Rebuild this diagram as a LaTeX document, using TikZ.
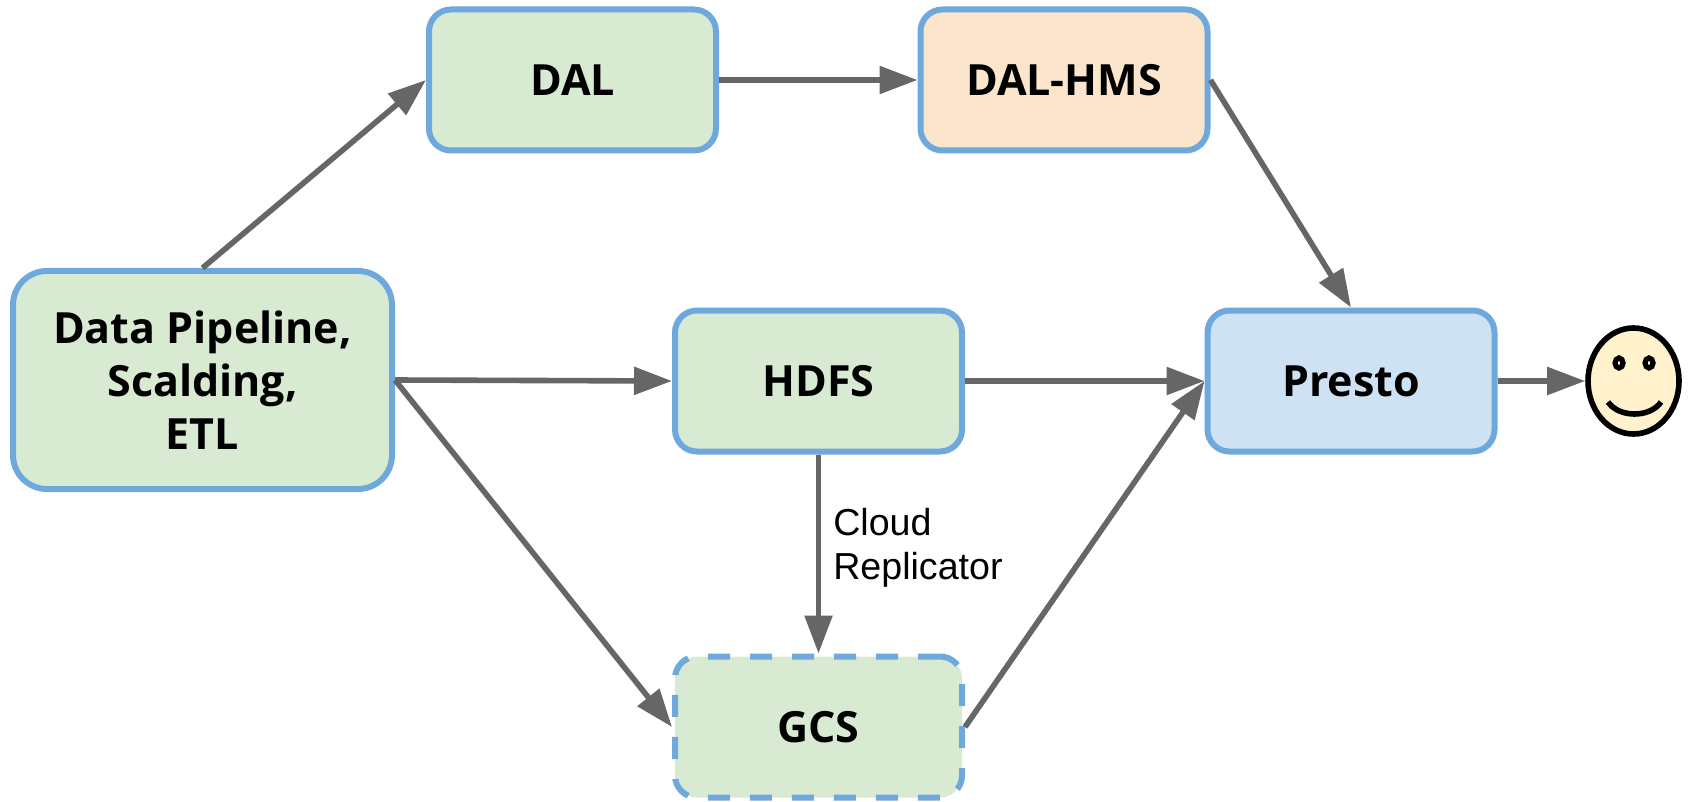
\documentclass[tikz,border=0pt]{standalone}
\usepackage{fontspec}
\setmainfont{Open Sans}
\newfontfamily\labelfont{Liberation Sans}
\usetikzlibrary{arrows.meta,shapes.geometric}
\definecolor{bordercol}{HTML}{6FA8DC}
\definecolor{greenfill}{HTML}{D9EAD3}
\definecolor{orangefill}{HTML}{FCE5CD}
\definecolor{bluefill}{HTML}{CFE2F3}
\definecolor{yellowfill}{HTML}{FFF2CC}
\definecolor{arrowcol}{HTML}{666666}
\tikzset{
  box/.style={rectangle, rounded corners=11pt, draw=bordercol, line width=3pt,
    minimum width=143.5pt, minimum height=70.5pt, inner sep=0pt,
    font=\fontsize{21.5}{26.5}\selectfont\bfseries, text height=15.4pt, text depth=0pt},
  bigbox/.style={rectangle, rounded corners=17pt, draw=bordercol, line width=3pt,
    minimum width=189.5pt, minimum height=109pt, inner sep=0pt, align=center,
    font=\fontsize{21.5}{26.5}\selectfont\bfseries},
  dashedbox/.style={box, dash pattern=on 11pt off 10pt},
  conn/.style={draw=arrowcol, line width=2.8pt, -{Triangle[length=19pt,width=13.5pt]}},
  lbl/.style={font=\labelfont\fontsize{18.8}{22}\selectfont, align=left, inner sep=0pt},
  smileyface/.style={ellipse, draw=black, fill=yellowfill, line width=2.8pt,
    minimum width=45.5pt, minimum height=53pt, inner sep=0pt}
}
\begin{document}
\begin{tikzpicture}[x=0.5pt,y=-0.5pt]
\useasboundingbox (0,0) rectangle (1691,802);
\node[bigbox, fill=greenfill] (dp) at (202.5,380) {Data Pipeline,\\Scalding,\\ETL};
\node[box, fill=greenfill] (dal) at (572.5,80) {DAL};
\node[box, fill=orangefill] (hms) at (1064,80) {DAL-HMS};
\node[box, fill=greenfill] (hdfs) at (818.5,381) {HDFS};
\node[box, fill=bluefill] (presto) at (1351,381) {Presto};
\node[dashedbox, fill=greenfill] (gcs) at (818.5,727) {GCS};
\node[smileyface] (smiley) at (1633.5,381) {};
% smiley details
\draw[line width=2.6pt, fill=yellowfill] (1619,363) ellipse [x radius=4, y radius=5];
\draw[line width=2.6pt, fill=yellowfill] (1649,363) ellipse [x radius=4, y radius=5];
\draw[line width=2.8pt] (1608,402) .. controls (1619,418) and (1650,418) .. (1661,402);
% connectors
\draw[conn] (dp.north) -- (dal.west);
\draw[conn] (dal.east) -- (hms.west);
\draw[conn] (hms.east) -- (presto.north);
\draw[conn] (dp.east) -- (hdfs.west);
\draw[conn] (dp.east) -- (gcs.west);
\draw[conn] (hdfs.east) -- (presto.west);
\draw[conn] (hdfs.south) -- node[lbl, pos=0.47, anchor=west, xshift=6pt] (cr) {Cloud\\Replicator} (gcs.north);
\draw[conn] (gcs.east) -- (presto.west);
\draw[conn] (presto.east) -- (smiley.west);
\end{tikzpicture}
\end{document}
